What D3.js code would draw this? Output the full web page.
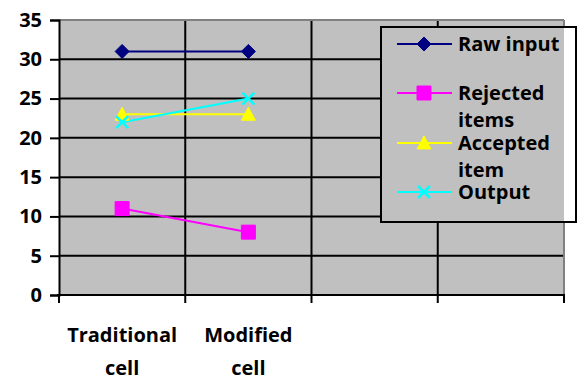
<!DOCTYPE html>
<html><head><meta charset="utf-8">
<script src="https://cdn.jsdelivr.net/npm/d3@7"></script>
<style>body{margin:0;background:#fff}svg{display:block}text{font-family:"Open Sans",sans-serif;font-weight:700;fill:#000}</style>
</head><body>
<script>
const categories = ["Traditional cell", "Modified cell", "", " "];
const seriesNames = ["Raw input", "Rejected items", "Accepted item", "Output"];
const rawInput = [31, 31];
const rejectedItems = [11, 8];
const acceptedItem = [23, 23];
const outputVals = [22, 25];
const yTicks = [0, 5, 10, 15, 20, 25, 30, 35];
const colors = ["#000080", "#FF00FF", "#FFFF00", "#00FFFF"];
const markers = ["diamond", "square", "triangle", "cross"];
const seriesData = [rawInput, rejectedItems, acceptedItem, outputVals];

const W = 577, H = 381;
const m = {l: 59, r: 13, t: 20, b: 86};
const svg = d3.select("body").append("svg").attr("width", W).attr("height", H);
const x = d3.scaleBand().domain(categories).range([m.l, W - m.r]);
const y = d3.scaleLinear().domain([0, 35]).range([H - m.b, m.t]);

svg.append("rect").attr("x", m.l).attr("y", m.t).attr("width", W - m.r - m.l).attr("height", H - m.b - m.t).attr("fill", "#C0C0C0");

svg.append("g").selectAll("line").data(yTicks.filter(d => d > 0 && d < 35)).join("line")
  .attr("x1", m.l).attr("x2", W - m.r).attr("y1", d => y(d)).attr("y2", d => y(d))
  .attr("stroke", "#000").attr("stroke-width", 2);
const bounds = categories.slice(1).map(c => x(c));
svg.append("g").selectAll("line").data(bounds).join("line")
  .attr("x1", d => d).attr("x2", d => d).attr("y1", m.t).attr("y2", H - m.b)
  .attr("stroke", "#000").attr("stroke-width", 2);
svg.append("line").attr("x1", m.l).attr("x2", W - m.r).attr("y1", m.t).attr("y2", m.t).attr("stroke", "#808080").attr("stroke-width", 2);
svg.append("line").attr("x1", W - m.r).attr("x2", W - m.r).attr("y1", m.t).attr("y2", H - m.b).attr("stroke", "#808080").attr("stroke-width", 2);

const yAxis = svg.append("g").attr("transform", `translate(${m.l},0)`)
  .call(d3.axisLeft(y).tickValues(yTicks).tickSize(9).tickPadding(8).tickFormat(d3.format("d")));
yAxis.attr("font-family", null).attr("font-size", null);
yAxis.select(".domain").attr("stroke", "#000").attr("stroke-width", 2);
yAxis.selectAll(".tick line").attr("stroke", "#000").attr("stroke-width", 2);
yAxis.selectAll("text").style("font-size", "20px").style("font-family", "'Open Sans'").style("font-weight", "700").attr("fill", "#000");

const xAxis = svg.append("g").attr("transform", `translate(0,${H - m.b})`);
xAxis.append("line").attr("x1", m.l - 2).attr("x2", W - m.r + 1).attr("stroke", "#000").attr("stroke-width", 2);
const tickX = [m.l].concat(bounds).concat([W - m.r]);
xAxis.selectAll("line.t").data(tickX).join("line").attr("class", "t")
  .attr("x1", d => d).attr("x2", d => d).attr("y1", 0).attr("y2", 8).attr("stroke", "#000").attr("stroke-width", 2);
categories.forEach(c => {
  const parts = c.trim().split(" ");
  if (!parts[0]) return;
  const cx = x(c) + x.bandwidth() / 2;
  const t = xAxis.append("text").attr("text-anchor", "middle").style("font-size", "20px");
  parts.forEach((p, i) => t.append("tspan").attr("x", cx).attr("y", 47 + i * 33).text(p));
});

function markerPath(type, size) {
  const s = size / 2;
  if (type === "diamond") return `M0,${-s}L${s},0L0,${s}L${-s},0Z`;
  if (type === "square") return `M${-s},${-s}H${s}V${s}H${-s}Z`;
  if (type === "triangle") return `M0,${-s}L${s},${s * 0.85}L${-s},${s * 0.85}Z`;
  return `M${-s},${-s}L${s},${s}M${s},${-s}L${-s},${s}`;
}
function drawMarker(g, type, color, cx, cy) {
  const p = g.append("path").attr("transform", `translate(${cx},${cy})`).attr("d", markerPath(type, type === "cross" ? 12 : 14));
  if (type === "cross") p.attr("fill", "none").attr("stroke", color).attr("stroke-width", 2.5);
  else p.attr("fill", color).attr("stroke", color).attr("stroke-width", 1);
}

const line = d3.line().x((d, i) => x(categories[i]) + x.bandwidth() / 2).y(d => y(d));
seriesData.forEach((vals, si) => {
  svg.append("path").datum(vals).attr("d", line).attr("fill", "none").attr("stroke", colors[si]).attr("stroke-width", 2);
});
seriesData.forEach((vals, si) => {
  const g = svg.append("g");
  vals.forEach((v, i) => drawMarker(g, markers[si], colors[si], x(categories[i]) + x.bandwidth() / 2, y(v)));
});

const lg = svg.append("g");
const lx = 381, ly = 27, lw = 195, lh = 195;
lg.append("rect").attr("x", lx).attr("y", ly).attr("width", W - m.r - lx).attr("height", lh).attr("fill", "#C0C0C0");
lg.append("rect").attr("x", W - m.r).attr("y", ly).attr("width", lx + lw - (W - m.r)).attr("height", lh).attr("fill", "#fff");
lg.append("rect").attr("x", lx).attr("y", ly).attr("width", lw).attr("height", lh).attr("fill", "none").attr("stroke", "#000").attr("stroke-width", 2);
const rowY = [44, 93, 143, 192];
const labelLines = [["Raw input"], ["Rejected", "items"], ["Accepted", "item"], ["Output"]];
seriesNames.forEach((n, i) => {
  lg.append("line").attr("x1", 397).attr("x2", 452).attr("y1", rowY[i]).attr("y2", rowY[i]).attr("stroke", colors[i]).attr("stroke-width", 2);
  drawMarker(lg, markers[i], colors[i], 424, rowY[i]);
  const t = lg.append("text").style("font-size", "20px");
  labelLines[i].forEach((p, k) => t.append("tspan").attr("x", 458).attr("y", rowY[i] + 7 + k * 27).text(p));
});
</script>
</body></html>
